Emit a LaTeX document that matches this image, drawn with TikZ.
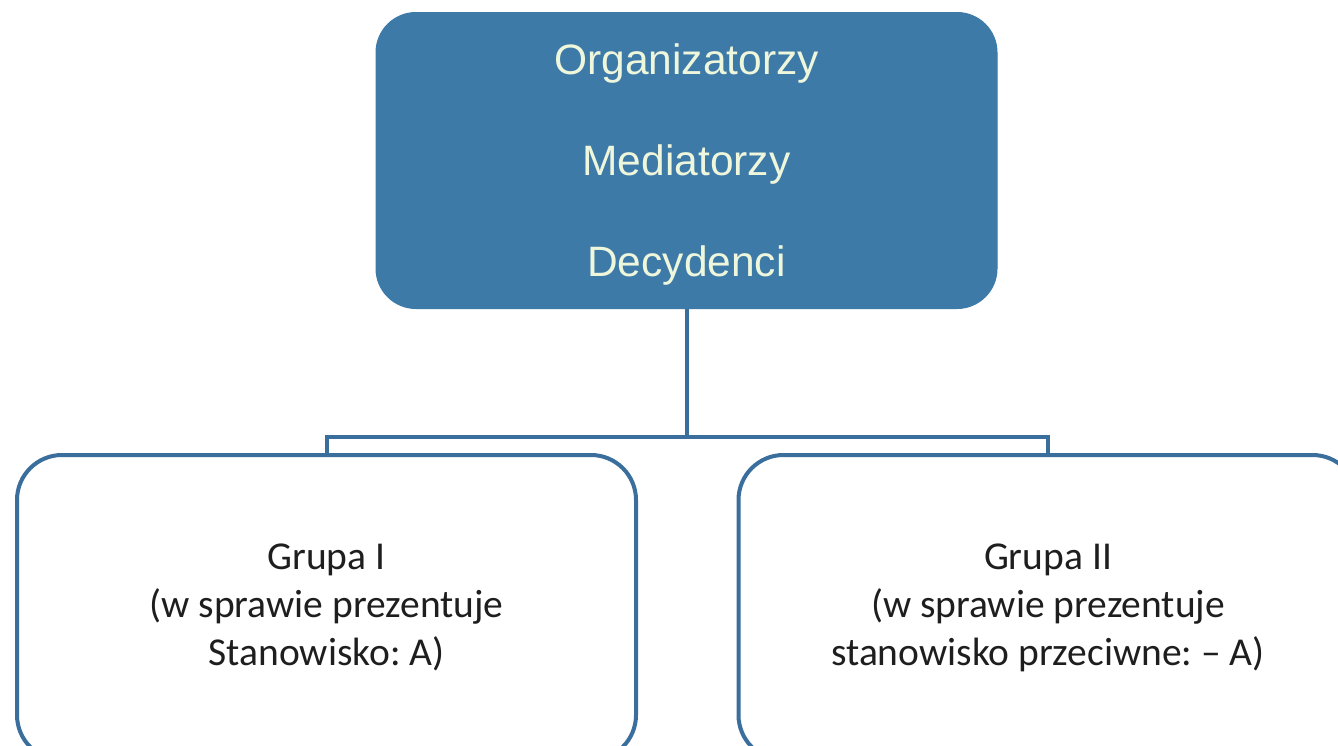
\documentclass[tikz,border=0pt]{standalone}
\usepackage{fontspec}
\setmainfont{Liberation Sans}
\newfontfamily\calib{Carlito}
\frenchspacing
\definecolor{boxblue}{RGB}{62,122,168}
\definecolor{lineblue}{RGB}{58,110,156}
\definecolor{creamtext}{RGB}{238,246,220}
\definecolor{darktext}{RGB}{30,30,30}
\begin{document}
\begin{tikzpicture}[x=1pt,y=-1pt,
  topbox/.style={draw=boxblue, fill=boxblue, rounded corners=40pt, line width=1pt,
    minimum width=621pt, minimum height=296pt, inner sep=0pt, align=center,
    text=creamtext, font=\fontsize{42.5}{101}\selectfont},
  groupbox/.style={draw=lineblue, fill=white, rounded corners=45pt, line width=4pt,
    minimum width=619pt, minimum height=305pt, inner sep=0pt, align=center,
    text=darktext, font=\calib\fontsize{39.5}{48}\selectfont\frenchspacing},
  conn/.style={draw=lineblue, line width=4pt}]
\useasboundingbox (0,0) rectangle (1338,745);
\clip (0,0) rectangle (1338,745);
\fill[white] (0,0) rectangle (1338,745);
\node[topbox] (top) at (686.5,160.5) {\rule{0pt}{39pt}Organizatorzy\\Mediatorzy\\Decydenci};
\node[groupbox] (g1) at (326.5,607.5) {Grupa I\\(w sprawie prezentuje\\Stanowisko: A)};
\node[groupbox] (g2) at (1048,607.5) {Grupa II\\(w sprawie prezentuje\\stanowisko przeciwne: – A)};
\draw[conn] (top.south) -- ++(0,128) -| (g1.north);
\draw[conn] (top.south) -- ++(0,128) -| (g2.north);
\end{tikzpicture}
\end{document}
